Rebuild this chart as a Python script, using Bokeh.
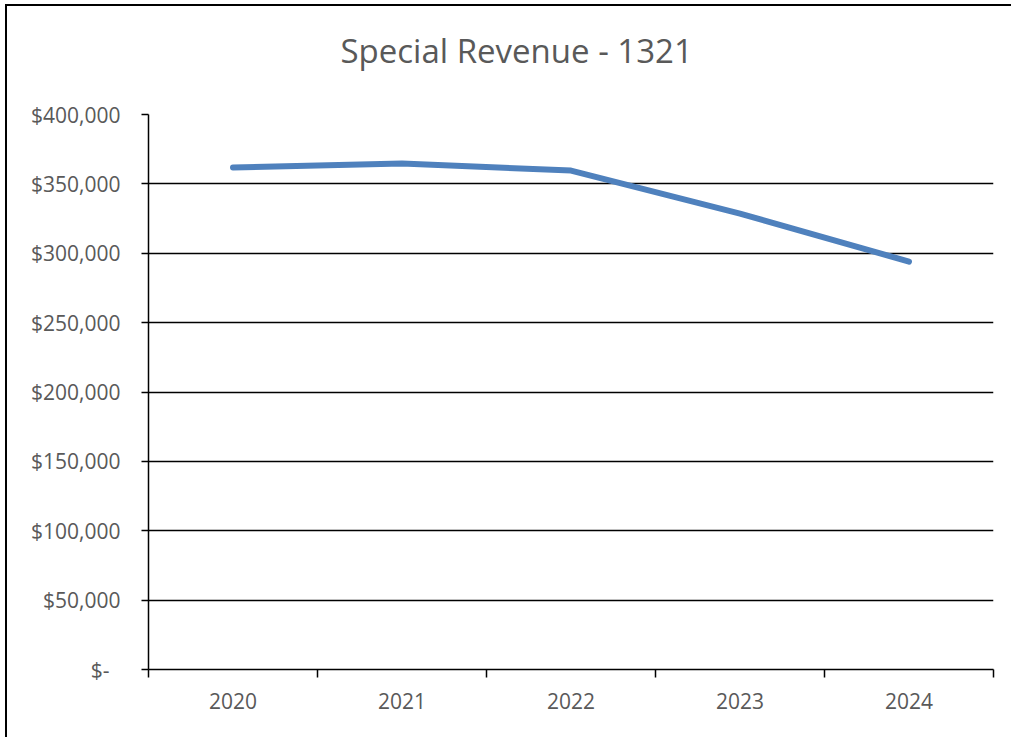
from bokeh.plotting import figure
from bokeh.models import Range1d, FixedTicker, Title
from bokeh.embed import file_html
from bokeh.resources import INLINE

title_text = "Special Revenue - 1321"
years = ["2020", "2021", "2022", "2023", "2024"]
revenue = [361800, 364700, 359600, 328600, 294000]
y_ticks = [0, 50000, 100000, 150000, 200000, 250000, 300000, 350000, 400000]
y_tick_labels = ["$-\u00a0\u00a0", "$50,000", "$100,000", "$150,000", "$200,000",
                 "$250,000", "$300,000", "$350,000", "$400,000"]

xs = list(range(1, len(years) + 1))
FONT = "Open Sans"
GREY = "#595959"

p = figure(width=1006, height=733, output_backend="svg", toolbar_location=None, title=None,
           x_range=Range1d(0.5, len(years) + 0.5), y_range=Range1d(0, 400000),
           min_border_left=141, min_border_right=20, min_border_top=108, min_border_bottom=70)

p.styles = {"margin-left": "5px", "margin-top": "4px",
            "border-left": "2px solid black", "border-top": "2px solid black"}

# spacer between frame and title (closest to the frame)
spacer = Title(text="\u00a0", text_font_size="1px", standoff=34, text_color="white")
p.add_layout(spacer, "above")

main_title = Title(text=title_text, align="left", offset=192, text_font=FONT,
                   text_font_size="33px", text_font_style="normal", text_color=GREY,
                   standoff=10)
p.add_layout(main_title, "above")

p.outline_line_color = None

p.line(xs, revenue, line_color="#4F81BD", line_width=6,
       line_cap="round", line_join="round")

# x axis
p.xaxis.ticker = FixedTicker(ticks=xs, minor_ticks=[x - 0.5 for x in xs] + [xs[-1] + 0.5])
p.xaxis.major_label_overrides = {x: y for x, y in zip(xs, years)}
p.xaxis.major_tick_out = 0
p.xaxis.major_tick_in = 0
p.xaxis.minor_tick_out = 8
p.xaxis.minor_tick_in = 0
p.xaxis.minor_tick_line_color = "black"
p.xaxis.minor_tick_line_width = 1.5
p.xaxis.axis_line_color = "black"
p.xaxis.axis_line_width = 1.5
p.xaxis.major_label_text_font = FONT
p.xaxis.major_label_text_font_size = "21px"
p.xaxis.major_label_text_color = GREY
p.xaxis.major_label_standoff = 15

# y axis
p.yaxis.ticker = FixedTicker(ticks=y_ticks, minor_ticks=[])
p.yaxis.major_label_overrides = {t: l for t, l in zip(y_ticks, y_tick_labels)}
p.yaxis.major_tick_out = 7
p.yaxis.major_tick_in = 0
p.yaxis.major_tick_line_color = "black"
p.yaxis.major_tick_line_width = 1.5
p.yaxis.axis_line_color = "black"
p.yaxis.axis_line_width = 1.5
p.yaxis.major_label_text_font = FONT
p.yaxis.major_label_text_font_size = "21px"
p.yaxis.major_label_text_color = GREY
p.yaxis.major_label_standoff = 21

p.xgrid.grid_line_color = None
p.ygrid.grid_line_color = "black"
p.ygrid.grid_line_width = 1.5
p.ygrid.grid_line_alpha = 1.0

open("out.html", "w").write(file_html(p, INLINE))
